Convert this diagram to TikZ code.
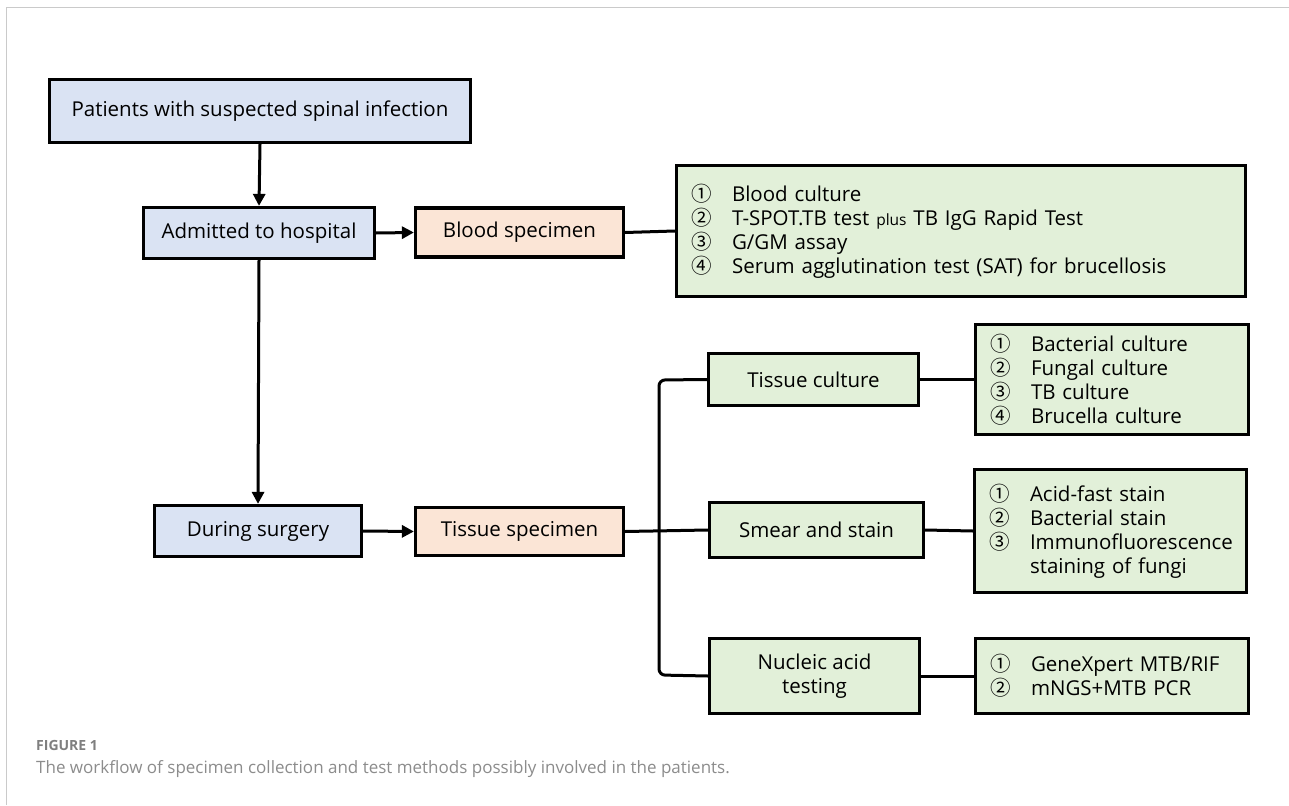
\documentclass[tikz,border=0pt]{standalone}
\usepackage{fontspec}
\setmainfont{Open Sans}
\newfontfamily\cjk{Noto Sans CJK SC}
\usetikzlibrary{arrows.meta}
\definecolor{bfill}{HTML}{DAE3F3}
\definecolor{ofill}{HTML}{FBE5D6}
\definecolor{gfill}{HTML}{E2F0D9}
\definecolor{capgray}{HTML}{8C8C8C}
\definecolor{figgray}{HTML}{7F7F7F}
\definecolor{framegray}{HTML}{CACACA}
\newcommand{\cn}[1]{\makebox[40.5pt][l]{\cjk #1}}
\begin{document}
\begin{tikzpicture}[x=1pt,y=-1pt,
  box/.style={draw=black, line width=3.2pt, inner sep=0pt, align=center,
    font=\fontsize{20.5}{24}\selectfont},
  bluebox/.style={box, fill=bfill},
  orangebox/.style={box, fill=ofill},
  greenbox/.style={box, fill=gfill},
  listbox/.style={box, fill=gfill, align=left, inner xsep=15pt},
  conn/.style={line width=3pt},
  arr/.style={conn, -{Triangle[length=12pt,width=12pt]}}]
\useasboundingbox (0,0) rectangle (1289,805);
\fill[white] (0,0) rectangle (1289,805);
% frame
\draw[framegray, line width=1.3pt] (6.5,805) -- (6.5,7.7) -- (1289,7.7);
% left column
\node[bluebox, minimum width=421pt, minimum height=63pt] (pat) at (260,111) {Patients with suspected spinal infection};
\node[bluebox, minimum width=231pt, minimum height=51pt] (adm) at (259,233) {Admitted to hospital};
\node[bluebox, minimum width=207pt, minimum height=51pt] (dur) at (258,531) {During surgery};
% specimens
\node[orangebox, minimum width=208pt, minimum height=49pt] (blood) at (519.5,232.5) {Blood specimen};
\node[orangebox, minimum width=208pt, minimum height=48pt] (tissue) at (519.5,531.5) {Tissue specimen};
% blood tests
\node[listbox, text width=539pt, minimum height=131pt] (btests) at (961,231) {%
\cn{①}Blood culture\\
\cn{②}T-SPOT.TB test {\fontsize{15.5}{24}\selectfont plus} TB IgG Rapid Test\\
\cn{③}G/GM assay\\
\cn{④}Serum agglutination test (SAT) for brucellosis};
% tissue methods
\node[greenbox, minimum width=210pt, minimum height=52pt] (tc) at (813.5,379.5) {Tissue culture};
\node[greenbox, minimum width=214pt, minimum height=55pt] (ss) at (816.5,530) {Smear and stain};
\node[greenbox, minimum width=210pt, minimum height=75pt] (na) at (814.5,676) {Nucleic acid\\testing};
% tissue tests
\node[listbox, text width=243pt, minimum height=110pt] (tct) at (1112,379.5) {%
\cn{①}Bacterial culture\\
\cn{②}Fungal culture\\
\cn{③}TB culture\\
\cn{④}Brucella culture};
\node[listbox, text width=242pt, minimum height=123pt] (sst) at (1110.5,531) {%
\cn{①}Acid-fast stain\\
\cn{②}Bacterial stain\\
\cn{③}Immunofluorescence\\
\hspace*{40.5pt}staining of fungi};
\node[listbox, text width=243pt, minimum height=75pt] (nat) at (1112,676) {%
\cn{①}GeneXpert MTB/RIF\\
\cn{②}mNGS+MTB PCR};
% connectors
\draw[arr] (pat.south) -- (adm.north);
\draw[arr] (adm.south) -- (dur.north);
\draw[arr] (adm.east) -- (blood.west);
\draw[arr] (dur.east) -- (tissue.west);
\draw[conn] (blood.east) -- (btests.west);
\draw[conn] (tissue.east) -- (ss.west);
\coordinate (bt) at (659,380);
\coordinate (bb) at (659,675);
\draw[conn, rounded corners=6pt] (tc.west) -- (bt) -- (bb) -- (na.west);
\draw[conn] (tc.east) -- (tct.west);
\draw[conn] (ss.east) -- (sst.west);
\draw[conn] (na.east) -- (nat.west);
% caption
\node[anchor=west, inner sep=0pt, text=figgray, font=\fontsize{14}{16}\selectfont\bfseries] (fig) at (36,745) {FIGURE 1};
\node[anchor=west, inner sep=0pt, text=capgray, font=\fontsize{17}{20}\selectfont] (cap) at (36,769) {The workflow of specimen collection and test methods possibly involved in the patients.};
\end{tikzpicture}
\end{document}
